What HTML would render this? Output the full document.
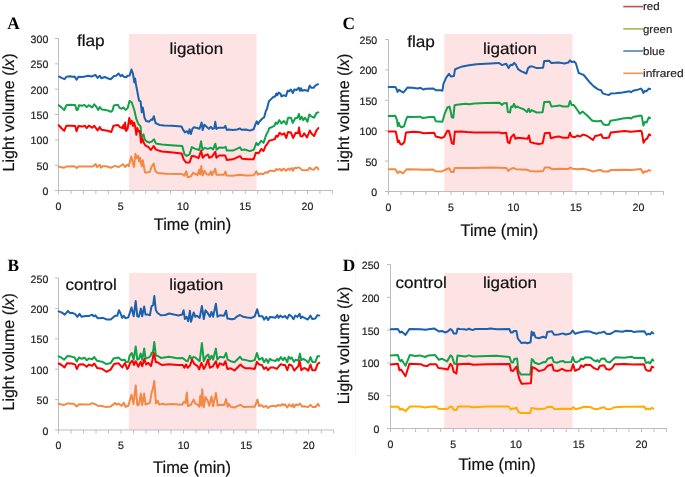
<!DOCTYPE html>
<html><head><meta charset="utf-8"><style>
html,body{margin:0;padding:0;background:#fff;width:685px;height:477px;overflow:hidden}
svg{display:block;will-change:transform} text{text-rendering:geometricPrecision}
</style></head><body>
<svg width="685" height="477" viewBox="0 0 685 477" font-family="Liberation Sans, sans-serif">
<rect x="129" y="34" width="127.60000000000002" height="156" fill="#FEE3E4"/>
<rect x="129" y="273" width="127.60000000000002" height="157" fill="#FEE3E4"/>
<rect x="444.2" y="34" width="128.3" height="157" fill="#FEE3E4"/>
<rect x="444.2" y="273" width="128.3" height="155" fill="#FEE3E4"/>
<path d="M58.5 38.5V190.5M58.5 190.5H332.5" stroke="#BDBDBD" stroke-width="1" fill="none"/>
<path d="M55.0 190.50H58.5M55.0 165.17H58.5M55.0 139.83H58.5M55.0 114.50H58.5M55.0 89.17H58.5M55.0 63.83H58.5M55.0 38.50H58.5M58.50 190.5V194.0M70.95 190.5V194.0M83.40 190.5V194.0M95.85 190.5V194.0M108.30 190.5V194.0M120.75 190.5V194.0M133.20 190.5V194.0M145.65 190.5V194.0M158.10 190.5V194.0M170.55 190.5V194.0M183.00 190.5V194.0M195.45 190.5V194.0M207.90 190.5V194.0M220.35 190.5V194.0M232.80 190.5V194.0M245.25 190.5V194.0M257.70 190.5V194.0M270.15 190.5V194.0M282.60 190.5V194.0M295.05 190.5V194.0M307.50 190.5V194.0M319.95 190.5V194.0M332.40 190.5V194.0" stroke="#BDBDBD" stroke-width="1" fill="none"/>
<text x="48.3" y="195.00" text-anchor="end" font-size="10.6" fill="#222" stroke="#222" stroke-width="0.2">0</text>
<text x="48.3" y="169.67" text-anchor="end" font-size="10.6" fill="#222" stroke="#222" stroke-width="0.2">50</text>
<text x="48.3" y="144.33" text-anchor="end" font-size="10.6" fill="#222" stroke="#222" stroke-width="0.2">100</text>
<text x="48.3" y="119.00" text-anchor="end" font-size="10.6" fill="#222" stroke="#222" stroke-width="0.2">150</text>
<text x="48.3" y="93.67" text-anchor="end" font-size="10.6" fill="#222" stroke="#222" stroke-width="0.2">200</text>
<text x="48.3" y="68.33" text-anchor="end" font-size="10.6" fill="#222" stroke="#222" stroke-width="0.2">250</text>
<text x="48.3" y="43.00" text-anchor="end" font-size="10.6" fill="#222" stroke="#222" stroke-width="0.2">300</text>
<text x="58.50" y="210" text-anchor="middle" font-size="10.6" fill="#222" stroke="#222" stroke-width="0.2">0</text>
<text x="120.75" y="210" text-anchor="middle" font-size="10.6" fill="#222" stroke="#222" stroke-width="0.2">5</text>
<text x="183.00" y="210" text-anchor="middle" font-size="10.6" fill="#222" stroke="#222" stroke-width="0.2">10</text>
<text x="245.25" y="210" text-anchor="middle" font-size="10.6" fill="#222" stroke="#222" stroke-width="0.2">15</text>
<text x="307.50" y="210" text-anchor="middle" font-size="10.6" fill="#222" stroke="#222" stroke-width="0.2">20</text>
<path d="M58.5 278.0V430.0M58.5 430.0H333.7" stroke="#BDBDBD" stroke-width="1" fill="none"/>
<path d="M55.0 430.00H58.5M55.0 399.60H58.5M55.0 369.20H58.5M55.0 338.80H58.5M55.0 308.40H58.5M55.0 278.00H58.5M58.50 430.0V433.5M71.01 430.0V433.5M83.52 430.0V433.5M96.03 430.0V433.5M108.54 430.0V433.5M121.05 430.0V433.5M133.56 430.0V433.5M146.07 430.0V433.5M158.58 430.0V433.5M171.09 430.0V433.5M183.60 430.0V433.5M196.11 430.0V433.5M208.62 430.0V433.5M221.13 430.0V433.5M233.64 430.0V433.5M246.15 430.0V433.5M258.66 430.0V433.5M271.17 430.0V433.5M283.68 430.0V433.5M296.19 430.0V433.5M308.70 430.0V433.5M321.21 430.0V433.5M333.72 430.0V433.5" stroke="#BDBDBD" stroke-width="1" fill="none"/>
<text x="48.3" y="434.50" text-anchor="end" font-size="10.6" fill="#222" stroke="#222" stroke-width="0.2">0</text>
<text x="48.3" y="404.10" text-anchor="end" font-size="10.6" fill="#222" stroke="#222" stroke-width="0.2">50</text>
<text x="48.3" y="373.70" text-anchor="end" font-size="10.6" fill="#222" stroke="#222" stroke-width="0.2">100</text>
<text x="48.3" y="343.30" text-anchor="end" font-size="10.6" fill="#222" stroke="#222" stroke-width="0.2">150</text>
<text x="48.3" y="312.90" text-anchor="end" font-size="10.6" fill="#222" stroke="#222" stroke-width="0.2">200</text>
<text x="48.3" y="282.50" text-anchor="end" font-size="10.6" fill="#222" stroke="#222" stroke-width="0.2">250</text>
<text x="58.50" y="449.3" text-anchor="middle" font-size="10.6" fill="#222" stroke="#222" stroke-width="0.2">0</text>
<text x="121.05" y="449.3" text-anchor="middle" font-size="10.6" fill="#222" stroke="#222" stroke-width="0.2">5</text>
<text x="183.60" y="449.3" text-anchor="middle" font-size="10.6" fill="#222" stroke="#222" stroke-width="0.2">10</text>
<text x="246.15" y="449.3" text-anchor="middle" font-size="10.6" fill="#222" stroke="#222" stroke-width="0.2">15</text>
<text x="308.70" y="449.3" text-anchor="middle" font-size="10.6" fill="#222" stroke="#222" stroke-width="0.2">20</text>
<path d="M388.5 39.5V191.5M388.5 191.5H663.5" stroke="#BDBDBD" stroke-width="1" fill="none"/>
<path d="M385.0 191.50H388.5M385.0 161.10H388.5M385.0 130.70H388.5M385.0 100.30H388.5M385.0 69.90H388.5M385.0 39.50H388.5M388.50 191.5V195.0M401.00 191.5V195.0M413.50 191.5V195.0M426.00 191.5V195.0M438.50 191.5V195.0M451.00 191.5V195.0M463.50 191.5V195.0M476.00 191.5V195.0M488.50 191.5V195.0M501.00 191.5V195.0M513.50 191.5V195.0M526.00 191.5V195.0M538.50 191.5V195.0M551.00 191.5V195.0M563.50 191.5V195.0M576.00 191.5V195.0M588.50 191.5V195.0M601.00 191.5V195.0M613.50 191.5V195.0M626.00 191.5V195.0M638.50 191.5V195.0M651.00 191.5V195.0M663.50 191.5V195.0" stroke="#BDBDBD" stroke-width="1" fill="none"/>
<text x="377.2" y="196.00" text-anchor="end" font-size="10.6" fill="#222" stroke="#222" stroke-width="0.2">0</text>
<text x="377.2" y="165.60" text-anchor="end" font-size="10.6" fill="#222" stroke="#222" stroke-width="0.2">50</text>
<text x="377.2" y="135.20" text-anchor="end" font-size="10.6" fill="#222" stroke="#222" stroke-width="0.2">100</text>
<text x="377.2" y="104.80" text-anchor="end" font-size="10.6" fill="#222" stroke="#222" stroke-width="0.2">150</text>
<text x="377.2" y="74.40" text-anchor="end" font-size="10.6" fill="#222" stroke="#222" stroke-width="0.2">200</text>
<text x="377.2" y="44.00" text-anchor="end" font-size="10.6" fill="#222" stroke="#222" stroke-width="0.2">250</text>
<text x="388.50" y="210.8" text-anchor="middle" font-size="10.6" fill="#222" stroke="#222" stroke-width="0.2">0</text>
<text x="451.00" y="210.8" text-anchor="middle" font-size="10.6" fill="#222" stroke="#222" stroke-width="0.2">5</text>
<text x="513.50" y="210.8" text-anchor="middle" font-size="10.6" fill="#222" stroke="#222" stroke-width="0.2">10</text>
<text x="576.00" y="210.8" text-anchor="middle" font-size="10.6" fill="#222" stroke="#222" stroke-width="0.2">15</text>
<text x="638.50" y="210.8" text-anchor="middle" font-size="10.6" fill="#222" stroke="#222" stroke-width="0.2">20</text>
<path d="M390.5 264.5V428.5M390.5 428.5H666.6" stroke="#BDBDBD" stroke-width="1" fill="none"/>
<path d="M387.0 428.50H390.5M387.0 395.70H390.5M387.0 362.90H390.5M387.0 330.10H390.5M387.0 297.30H390.5M387.0 264.50H390.5M390.50 428.5V432.0M403.05 428.5V432.0M415.60 428.5V432.0M428.15 428.5V432.0M440.70 428.5V432.0M453.25 428.5V432.0M465.80 428.5V432.0M478.35 428.5V432.0M490.90 428.5V432.0M503.45 428.5V432.0M516.00 428.5V432.0M528.55 428.5V432.0M541.10 428.5V432.0M553.65 428.5V432.0M566.20 428.5V432.0M578.75 428.5V432.0M591.30 428.5V432.0M603.85 428.5V432.0M616.40 428.5V432.0M628.95 428.5V432.0M641.50 428.5V432.0M654.05 428.5V432.0M666.60 428.5V432.0" stroke="#BDBDBD" stroke-width="1" fill="none"/>
<text x="379.5" y="433.00" text-anchor="end" font-size="10.6" fill="#222" stroke="#222" stroke-width="0.2">0</text>
<text x="379.5" y="400.20" text-anchor="end" font-size="10.6" fill="#222" stroke="#222" stroke-width="0.2">50</text>
<text x="379.5" y="367.40" text-anchor="end" font-size="10.6" fill="#222" stroke="#222" stroke-width="0.2">100</text>
<text x="379.5" y="334.60" text-anchor="end" font-size="10.6" fill="#222" stroke="#222" stroke-width="0.2">150</text>
<text x="379.5" y="301.80" text-anchor="end" font-size="10.6" fill="#222" stroke="#222" stroke-width="0.2">200</text>
<text x="379.5" y="269.00" text-anchor="end" font-size="10.6" fill="#222" stroke="#222" stroke-width="0.2">250</text>
<text x="390.50" y="448.2" text-anchor="middle" font-size="10.6" fill="#222" stroke="#222" stroke-width="0.2">0</text>
<text x="453.25" y="448.2" text-anchor="middle" font-size="10.6" fill="#222" stroke="#222" stroke-width="0.2">5</text>
<text x="516.00" y="448.2" text-anchor="middle" font-size="10.6" fill="#222" stroke="#222" stroke-width="0.2">10</text>
<text x="578.75" y="448.2" text-anchor="middle" font-size="10.6" fill="#222" stroke="#222" stroke-width="0.2">15</text>
<text x="641.50" y="448.2" text-anchor="middle" font-size="10.6" fill="#222" stroke="#222" stroke-width="0.2">20</text>
<path d="M355.5 251V457" stroke="#F6F6F6" stroke-width="1"/>
<text x="7.2" y="28.6" font-family="Liberation Serif, serif" font-weight="bold" font-size="17.3">A</text>
<text x="7.6" y="270.8" font-family="Liberation Serif, serif" font-weight="bold" font-size="17.3">B</text>
<text x="342.6" y="28.8" font-family="Liberation Serif, serif" font-weight="bold" font-size="17.3">C</text>
<text x="342.8" y="270.5" font-family="Liberation Serif, serif" font-weight="bold" font-size="17.3">D</text>
<text x="76.9" y="46" font-size="16" fill="#111" stroke="#111" stroke-width="0.2" textLength="27.8" lengthAdjust="spacingAndGlyphs">flap</text>
<text x="169.4" y="53.9" font-size="16" fill="#111" stroke="#111" stroke-width="0.2" textLength="53.7" lengthAdjust="spacingAndGlyphs">ligation</text>
<text x="65.6" y="289.7" font-size="16" fill="#111" stroke="#111" stroke-width="0.2" textLength="51.1" lengthAdjust="spacingAndGlyphs">control</text>
<text x="169.2" y="290.1" font-size="16" fill="#111" stroke="#111" stroke-width="0.2" textLength="53.9" lengthAdjust="spacingAndGlyphs">ligation</text>
<text x="407.2" y="46.6" font-size="16" fill="#111" stroke="#111" stroke-width="0.2" textLength="27.7" lengthAdjust="spacingAndGlyphs">flap</text>
<text x="483" y="53.9" font-size="16" fill="#111" stroke="#111" stroke-width="0.2" textLength="54.1" lengthAdjust="spacingAndGlyphs">ligation</text>
<text x="395.6" y="288.4" font-size="16" fill="#111" stroke="#111" stroke-width="0.2" textLength="51.2" lengthAdjust="spacingAndGlyphs">control</text>
<text x="483" y="287.6" font-size="16" fill="#111" stroke="#111" stroke-width="0.2" textLength="54.1" lengthAdjust="spacingAndGlyphs">ligation</text>
<text x="153.8" y="229.5" font-size="16.8" fill="#111" stroke="#111" stroke-width="0.2" textLength="77.3" lengthAdjust="spacingAndGlyphs">Time (min)</text>
<text x="153.1" y="472.5" font-size="16.8" fill="#111" stroke="#111" stroke-width="0.2" textLength="77.8" lengthAdjust="spacingAndGlyphs">Time (min)</text>
<text x="460.5" y="235.7" font-size="16.8" fill="#111" stroke="#111" stroke-width="0.2" textLength="77.6" lengthAdjust="spacingAndGlyphs">Time (min)</text>
<text x="458.5" y="469.7" font-size="16.8" fill="#111" stroke="#111" stroke-width="0.2" textLength="77.2" lengthAdjust="spacingAndGlyphs">Time (min)</text>
<text transform="translate(14.2,171.4) rotate(-90)" x="0" y="0" font-size="16" fill="#111" stroke="#111" stroke-width="0.2" textLength="117.9" lengthAdjust="spacingAndGlyphs">Light volume (<tspan font-style="italic">lx</tspan>)</text>
<text transform="translate(13.7,410.5) rotate(-90)" x="0" y="0" font-size="16" fill="#111" stroke="#111" stroke-width="0.2" textLength="117.39999999999998" lengthAdjust="spacingAndGlyphs">Light volume (<tspan font-style="italic">lx</tspan>)</text>
<text transform="translate(349,171.4) rotate(-90)" x="0" y="0" font-size="16" fill="#111" stroke="#111" stroke-width="0.2" textLength="117.7" lengthAdjust="spacingAndGlyphs">Light volume (<tspan font-style="italic">lx</tspan>)</text>
<text transform="translate(349,404.3) rotate(-90)" x="0" y="0" font-size="16" fill="#111" stroke="#111" stroke-width="0.2" textLength="117.60000000000002" lengthAdjust="spacingAndGlyphs">Light volume (<tspan font-style="italic">lx</tspan>)</text>
<path d="M623.3 6.6H643" stroke="#C0504D" stroke-width="1.6"/>
<text x="643" y="9.8" font-size="11" fill="#222" stroke="#222" stroke-width="0.15" textLength="16.7" lengthAdjust="spacingAndGlyphs">red</text>
<path d="M623.3 28.9H643" stroke="#9BBB59" stroke-width="1.6"/>
<text x="643" y="32.8" font-size="11" fill="#222" stroke="#222" stroke-width="0.15" textLength="29.3" lengthAdjust="spacingAndGlyphs">green</text>
<path d="M623.3 51H643" stroke="#4F81BD" stroke-width="1.6"/>
<text x="643" y="54.8" font-size="11" fill="#222" stroke="#222" stroke-width="0.15" textLength="21.8" lengthAdjust="spacingAndGlyphs">blue</text>
<path d="M623.3 73.3H643" stroke="#F79646" stroke-width="1.6"/>
<text x="643" y="77" font-size="11" fill="#222" stroke="#222" stroke-width="0.15" textLength="40.7" lengthAdjust="spacingAndGlyphs">infrared</text>
<path d="M58.7 105.2 L61.5 107.4 L64.2 110.1 L66.4 105.2 L69.1 104.7 L75.2 104.9 L76.6 110.1 L77.9 109.6 L79.0 105.2 L82.3 105.8 L84.5 104.9 L86.7 107.1 L88.8 105.2 L92.1 107.4 L94.3 104.4 L96.0 106.3 L98.2 109.9 L99.8 107.1 L102.0 109.6 L105.3 109.9 L108.6 110.7 L110.7 111.8 L112.4 110.7 L113.8 105.5 L117.9 104.7 L119.5 107.9 L121.7 108.8 L123.3 107.4 L125.5 109.9 L127.7 107.9 L129.5 100.9 L131.7 102.3 L134.3 110.0 L136.4 119.2 L138.5 124.3 L140.6 126.4 L141.4 137.7 L143.5 134.3 L144.8 139.8 L146.9 141.5 L149.3 142.7 L151.5 141.7 L154.1 139.3 L155.9 143.4 L161.8 144.6 L170.6 145.3 L182.3 146.1 L184.5 154.4 L186.7 155.9 L189.6 154.4 L191.8 147.1 L194.8 148.6 L199.2 150.0 L201.1 141.2 L202.4 150.0 L204.4 147.8 L207.7 148.9 L210.9 147.8 L213.1 149.5 L215.3 143.7 L216.6 149.8 L219.2 147.6 L223.5 147.8 L225.7 146.8 L226.8 150.6 L232.8 150.6 L237.8 148.4 L240.0 147.3 L241.6 150.0 L244.9 149.5 L249.8 151.1 L253.7 149.8 L256.4 142.9 L258.0 145.1 L261.3 140.7 L263.5 142.9 L266.2 134.7 L268.3 130.9 L269.2 128.1 L271.6 127.2 L274.4 125.8 L275.8 122.5 L277.3 123.9 L279.2 120.1 L281.5 123.4 L283.9 121.0 L286.5 124.3 L288.1 117.7 L290.9 117.7 L292.8 122.9 L295.2 118.2 L297.5 117.7 L299.0 114.0 L300.1 119.6 L301.8 116.8 L303.2 120.1 L305.1 117.7 L307.5 121.8 L309.3 114.4 L311.2 116.3 L314.1 117.7 L316.4 113.0 L318.3 112.4" stroke="#12A24A" stroke-width="2" fill="none" stroke-linejoin="round" stroke-linecap="round"/>
<path d="M58.7 125.2 L61.5 128.2 L64.2 130.9 L66.4 125.7 L70.2 125.7 L75.2 126.0 L76.6 131.2 L78.4 126.0 L82.3 126.6 L85.0 125.7 L86.7 128.2 L88.8 125.7 L92.1 127.7 L94.3 125.7 L96.0 128.2 L97.6 130.4 L99.8 127.1 L101.4 129.8 L107.5 130.7 L111.3 132.0 L113.5 125.7 L115.0 125.5 L117.9 124.9 L120.0 127.2 L122.1 128.1 L123.4 125.1 L124.2 128.9 L125.1 122.6 L126.1 131.0 L127.6 128.9 L129.3 118.0 L130.5 123.9 L131.8 120.9 L133.0 126.0 L134.1 122.6 L135.2 126.8 L136.4 134.8 L137.3 128.1 L138.5 131.4 L139.8 131.0 L141.0 142.7 L142.3 138.5 L143.5 142.3 L145.2 145.3 L148.5 147.1 L150.8 150.0 L153.7 146.1 L155.9 149.6 L161.8 151.5 L170.6 152.2 L181.6 153.4 L183.8 159.6 L186.0 162.5 L189.6 162.5 L191.8 155.9 L195.5 156.6 L198.5 158.1 L201.1 150.8 L202.7 157.7 L204.9 155.5 L207.7 154.4 L209.3 157.7 L212.0 156.6 L215.3 151.7 L216.4 157.7 L219.2 155.5 L225.2 155.5 L226.8 159.9 L232.8 159.3 L237.8 157.2 L240.0 156.1 L242.2 158.8 L248.2 159.3 L253.7 159.3 L255.8 152.8 L258.6 153.3 L261.3 148.9 L263.5 151.1 L265.7 145.7 L266.9 144.6 L269.2 140.8 L272.5 139.9 L274.9 139.0 L276.3 135.7 L277.7 136.6 L279.6 132.8 L282.0 134.7 L284.3 133.3 L286.2 138.0 L288.1 131.9 L290.9 132.4 L293.1 138.0 L295.7 132.8 L298.0 133.3 L299.0 127.6 L300.4 136.1 L302.3 136.6 L304.2 133.3 L307.0 137.5 L309.8 130.5 L311.2 133.3 L314.1 136.1 L316.4 130.5 L318.3 128.1" stroke="#FF0000" stroke-width="2" fill="none" stroke-linejoin="round" stroke-linecap="round"/>
<path d="M59.1 76.5 L61.5 77.9 L64.5 79.2 L66.4 76.8 L70.2 76.2 L72.4 76.8 L74.6 76.6 L76.6 79.7 L78.4 76.8 L82.3 77.1 L85.0 76.6 L87.8 75.7 L91.6 76.5 L95.4 74.9 L97.6 77.9 L99.8 75.7 L101.4 78.2 L104.7 77.0 L107.5 78.2 L110.7 79.3 L114.0 76.0 L116.2 75.7 L118.6 73.5 L120.6 76.2 L122.2 74.9 L123.9 76.8 L126.1 77.3 L127.7 75.7 L129.6 75.4 L131.5 69.5 L133.0 73.8 L134.3 82.4 L135.1 78.5 L135.9 84.0 L137.4 91.9 L139.0 100.5 L140.6 101.3 L141.8 112.3 L142.9 107.6 L144.5 117.8 L146.1 121.0 L149.2 121.7 L151.3 119.4 L152.4 119.9 L153.9 116.2 L155.5 123.0 L159.4 124.9 L164.2 125.4 L172.0 125.7 L181.5 126.5 L183.0 129.6 L184.9 132.4 L187.0 131.2 L188.5 133.5 L189.6 129.3 L190.9 134.0 L192.5 128.8 L194.0 127.3 L197.2 128.0 L199.5 128.8 L201.6 122.5 L202.7 130.0 L204.4 124.6 L206.6 126.8 L208.8 128.9 L210.9 126.8 L212.6 128.9 L214.2 128.4 L215.3 121.8 L216.4 128.9 L218.1 127.8 L224.1 127.8 L225.4 125.9 L226.8 130.0 L228.5 129.5 L232.8 130.0 L237.2 129.5 L240.0 128.4 L241.6 129.8 L246.0 129.5 L249.8 130.6 L253.7 129.2 L255.3 124.6 L256.7 121.3 L258.0 124.0 L259.7 121.3 L262.4 118.5 L264.1 117.4 L265.7 111.4 L267.0 108.7 L268.9 101.3 L271.1 99.1 L273.3 97.0 L275.1 96.5 L276.4 93.5 L277.3 95.2 L278.8 92.6 L280.3 93.5 L281.6 96.5 L283.4 95.2 L286.0 96.1 L287.6 90.8 L289.1 91.3 L290.8 89.5 L292.8 93.0 L294.3 89.5 L296.5 90.0 L298.7 87.8 L300.0 90.8 L300.9 88.2 L302.2 90.8 L304.8 90.0 L307.9 91.1 L309.7 85.6 L311.4 87.8 L313.6 87.8 L315.8 85.1 L318.0 84.3" stroke="#1A62AD" stroke-width="2" fill="none" stroke-linejoin="round" stroke-linecap="round"/>
<path d="M58.7 166.6 L61.5 167.3 L64.2 167.7 L67.0 166.4 L73.5 166.2 L75.2 166.6 L76.6 168.1 L78.4 166.4 L84.5 166.6 L88.8 166.4 L93.2 166.4 L95.6 164.0 L97.1 167.0 L99.8 164.8 L100.9 167.7 L103.1 166.2 L106.4 166.2 L110.7 167.7 L115.1 165.9 L118.4 167.0 L120.6 165.9 L123.3 164.2 L125.0 167.0 L127.2 164.8 L128.8 166.2 L129.6 162.5 L131.3 156.5 L132.9 163.1 L134.0 166.9 L135.4 153.8 L136.8 158.1 L138.1 155.9 L139.0 161.4 L140.0 157.6 L141.7 166.4 L142.8 160.3 L145.0 172.4 L147.2 172.6 L149.9 171.8 L151.5 166.9 L153.7 163.6 L155.4 171.3 L157.6 172.9 L166.3 173.7 L177.3 174.0 L182.7 174.3 L184.4 175.7 L186.2 171.3 L187.7 177.3 L191.0 176.2 L193.1 172.9 L195.3 174.0 L197.5 175.1 L199.2 169.6 L200.3 174.6 L201.3 166.0 L202.7 175.3 L204.4 170.9 L206.6 174.2 L209.3 174.7 L210.9 171.4 L212.0 175.3 L215.3 168.7 L216.4 174.7 L219.2 174.7 L224.1 174.7 L225.4 171.6 L226.8 175.6 L232.8 175.8 L239.4 174.7 L246.0 175.6 L253.7 175.3 L256.4 171.4 L258.0 174.7 L260.2 173.6 L263.0 174.2 L265.7 172.0 L267.2 173.0 L269.4 170.8 L272.0 170.8 L274.6 171.2 L276.4 169.0 L277.7 169.9 L279.9 169.0 L281.6 170.8 L283.4 168.6 L286.0 170.8 L288.2 168.6 L290.0 169.9 L291.7 168.1 L293.0 170.8 L294.3 168.1 L296.5 168.1 L298.3 167.3 L300.0 168.1 L301.8 169.9 L305.3 170.3 L307.9 170.1 L309.7 167.7 L311.8 169.4 L313.6 169.9 L315.8 167.3 L317.1 167.3 L318.4 169.4" stroke="#F28A45" stroke-width="2" fill="none" stroke-linejoin="round" stroke-linecap="round"/>
<path d="M58.7 356.4 L61.5 357.7 L64.2 359.7 L67.5 355.9 L71.3 356.6 L74.6 357.5 L76.8 361.4 L79.0 357.5 L81.7 358.8 L84.5 357.7 L86.7 360.3 L88.8 358.4 L92.1 359.2 L94.3 357.0 L97.1 360.8 L102.0 361.7 L106.4 364.1 L110.7 363.0 L113.5 358.6 L118.4 357.5 L121.7 360.3 L124.4 359.7 L126.1 361.9 L128.3 361.9 L129.6 355.7 L131.8 353.0 L133.7 359.6 L135.7 346.4 L137.3 359.6 L138.9 359.0 L140.6 353.5 L142.2 360.1 L144.2 348.6 L145.5 358.5 L148.8 357.4 L150.4 356.3 L151.5 353.0 L153.0 351.9 L154.3 342.0 L155.9 355.7 L157.6 355.7 L160.8 357.9 L169.1 356.8 L177.3 358.2 L182.7 357.9 L186.0 360.7 L187.7 361.2 L189.9 355.7 L191.5 359.0 L193.7 356.8 L195.9 357.9 L199.7 361.2 L201.9 343.1 L203.8 361.2 L206.0 356.3 L208.2 354.6 L209.9 359.6 L211.5 355.7 L213.1 359.6 L215.9 348.6 L217.3 359.6 L219.7 356.8 L224.1 357.4 L226.1 353.0 L227.6 359.6 L230.7 361.2 L234.5 362.3 L237.8 359.0 L240.0 356.8 L242.2 359.6 L246.0 360.1 L250.4 361.2 L254.7 360.1 L256.9 353.0 L259.1 359.6 L262.4 357.9 L264.1 362.3 L266.2 359.0 L268.1 362.8 L269.8 358.8 L272.0 360.1 L275.5 361.0 L277.3 358.8 L278.6 360.6 L280.8 357.1 L283.0 360.1 L284.7 357.5 L287.3 362.3 L288.6 356.6 L290.4 358.8 L291.7 357.5 L293.9 361.9 L295.6 359.7 L298.3 360.6 L300.0 353.6 L301.3 360.1 L303.5 358.8 L306.2 360.6 L308.3 362.8 L310.5 357.1 L312.3 361.9 L315.4 361.9 L317.5 356.2 L319.3 356.2" stroke="#12A24A" stroke-width="2" fill="none" stroke-linejoin="round" stroke-linecap="round"/>
<path d="M58.7 363.5 L61.5 365.0 L64.5 367.4 L66.9 363.2 L71.9 363.5 L75.2 364.6 L76.8 369.0 L79.0 364.6 L83.4 364.3 L86.7 366.8 L88.8 364.6 L92.1 365.7 L94.3 363.5 L97.1 367.9 L102.0 368.7 L106.4 371.8 L110.7 369.6 L114.0 363.9 L118.4 363.2 L122.2 367.4 L125.0 363.0 L127.2 369.0 L128.0 368.3 L130.2 362.8 L132.4 360.7 L134.0 365.0 L135.7 361.2 L138.4 366.7 L140.6 361.8 L142.2 366.1 L144.4 359.0 L146.1 364.5 L148.3 362.8 L151.0 366.1 L152.6 359.6 L153.7 353.0 L155.9 362.3 L157.6 362.3 L161.9 365.0 L169.1 364.2 L177.3 365.0 L182.7 365.0 L184.4 367.8 L186.0 364.5 L187.7 367.8 L189.9 365.6 L192.1 359.6 L194.2 363.9 L197.5 366.1 L199.2 369.4 L201.4 362.8 L203.8 368.9 L206.0 365.0 L207.9 359.6 L209.9 367.8 L213.1 366.1 L215.9 361.2 L217.5 367.8 L219.7 363.4 L223.5 365.0 L225.4 361.2 L227.4 368.9 L230.7 368.3 L234.5 370.5 L237.8 367.2 L240.5 364.5 L242.7 366.7 L245.4 368.3 L250.4 368.3 L254.7 368.9 L256.9 361.8 L259.1 364.5 L261.9 365.0 L264.1 368.9 L266.2 367.2 L268.1 370.2 L270.3 367.6 L273.8 367.6 L276.8 368.9 L278.6 366.7 L280.8 364.1 L283.4 365.0 L285.1 365.0 L287.3 370.2 L289.1 364.5 L291.7 365.4 L294.3 370.6 L296.5 368.0 L298.3 366.3 L299.6 360.6 L301.3 370.2 L304.0 368.0 L306.2 368.9 L308.3 370.6 L310.5 364.5 L312.3 370.2 L315.4 370.2 L317.5 364.1 L319.3 362.8" stroke="#FF0000" stroke-width="2" fill="none" stroke-linejoin="round" stroke-linecap="round"/>
<path d="M58.7 311.4 L61.5 312.4 L64.8 314.6 L68.0 310.8 L69.7 313.0 L72.4 312.8 L75.2 314.1 L77.4 316.8 L79.5 313.9 L81.7 316.8 L85.6 316.1 L88.8 316.1 L92.1 314.6 L93.8 316.3 L95.4 315.4 L97.6 318.2 L103.1 317.9 L106.9 319.6 L110.7 319.6 L115.1 315.7 L117.3 315.7 L119.0 310.3 L120.6 313.5 L122.2 317.9 L123.9 315.7 L125.5 318.2 L128.3 317.4 L129.6 313.5 L131.5 307.5 L133.7 316.3 L135.7 301.0 L137.3 316.3 L138.9 316.8 L140.9 308.6 L142.2 316.3 L144.2 306.4 L145.5 314.6 L147.7 314.6 L149.9 315.2 L151.5 306.4 L153.2 304.8 L154.3 296.0 L155.9 310.3 L157.6 313.0 L160.8 315.2 L165.2 315.0 L169.1 313.5 L174.0 314.6 L178.4 315.4 L182.2 314.6 L183.6 310.3 L184.9 319.0 L186.6 316.8 L188.2 321.2 L189.9 310.8 L191.0 321.8 L193.7 312.4 L195.3 316.8 L197.0 315.7 L199.7 317.9 L201.9 305.9 L203.8 319.0 L205.5 310.3 L207.7 313.0 L209.9 316.8 L211.5 311.9 L213.1 316.8 L215.9 303.7 L217.5 316.8 L219.7 315.2 L224.1 315.7 L226.1 310.6 L227.4 318.5 L231.8 319.3 L234.5 318.7 L237.2 316.3 L240.0 315.0 L243.2 316.8 L247.1 317.4 L251.5 317.9 L254.7 316.3 L257.2 309.2 L259.1 316.3 L262.4 316.3 L264.1 319.6 L266.2 316.8 L268.1 320.0 L269.8 316.9 L272.9 317.3 L275.5 317.8 L277.3 315.1 L278.6 317.8 L280.3 315.6 L282.5 317.3 L285.1 316.0 L287.3 318.6 L289.1 314.7 L291.3 316.0 L293.5 319.1 L295.2 315.6 L297.4 316.9 L299.6 313.8 L300.9 318.2 L302.2 316.5 L304.4 317.8 L307.9 319.5 L310.5 315.6 L312.3 319.1 L315.4 318.6 L317.5 315.1 L319.3 315.6" stroke="#1A62AD" stroke-width="2" fill="none" stroke-linejoin="round" stroke-linecap="round"/>
<path d="M58.7 403.8 L61.5 404.5 L64.2 404.9 L68.0 403.4 L73.5 403.8 L76.8 406.4 L79.0 404.2 L84.5 404.5 L89.9 404.5 L92.1 403.1 L95.4 404.2 L97.6 405.8 L102.0 406.0 L106.4 407.1 L110.7 406.4 L115.1 403.1 L116.8 404.7 L118.4 403.6 L121.7 405.8 L123.9 402.7 L125.5 406.9 L128.3 405.8 L129.6 401.3 L131.5 394.7 L133.5 404.0 L135.7 385.4 L137.3 405.1 L138.9 404.6 L140.9 393.6 L142.2 405.1 L144.2 393.6 L145.5 404.6 L147.7 403.7 L149.9 402.9 L151.5 393.1 L153.0 388.1 L154.3 381.0 L155.9 403.5 L157.6 400.7 L159.2 404.6 L163.0 403.7 L165.2 404.6 L171.8 404.0 L182.2 404.8 L183.8 401.8 L185.5 402.9 L186.8 392.5 L188.0 406.2 L191.0 404.6 L193.7 399.6 L195.3 403.5 L198.1 405.1 L199.2 406.8 L200.3 395.8 L201.4 405.7 L202.2 389.2 L203.8 407.3 L205.5 396.9 L207.7 400.7 L209.3 405.7 L211.5 396.4 L213.1 406.2 L215.9 393.1 L217.7 405.7 L219.7 404.8 L224.1 405.1 L226.1 399.1 L227.6 406.8 L229.0 404.0 L230.7 406.8 L234.5 407.6 L237.2 406.2 L240.5 404.8 L243.8 407.0 L248.2 406.8 L254.7 406.8 L257.5 399.6 L259.1 406.2 L261.3 405.1 L263.5 407.0 L266.3 405.8 L268.1 408.0 L270.3 406.2 L273.8 405.8 L275.9 406.6 L278.1 404.9 L280.3 405.8 L282.5 404.0 L283.8 405.3 L285.1 404.4 L287.3 407.5 L289.1 404.4 L291.3 406.6 L293.0 404.0 L293.9 407.5 L296.1 404.4 L297.8 405.3 L300.0 403.6 L301.8 406.6 L304.4 406.2 L307.9 407.1 L310.5 404.9 L312.7 407.1 L315.4 407.1 L318.0 404.0 L319.3 405.8" stroke="#F28A45" stroke-width="2" fill="none" stroke-linejoin="round" stroke-linecap="round"/>
<path d="M388.7 116.0 L395.3 115.8 L397.0 120.2 L397.8 126.2 L398.9 122.9 L399.7 125.7 L401.3 127.3 L404.1 126.2 L405.7 120.7 L407.4 116.7 L413.4 116.9 L419.9 116.7 L422.7 118.0 L429.8 116.9 L434.2 117.1 L435.8 121.3 L438.6 121.5 L442.4 121.8 L442.4 121.8 L444.7 113.7 L447.4 107.5 L449.5 106.6 L450.6 111.0 L451.8 117.3 L453.3 117.8 L454.5 105.7 L455.0 104.9 L461.0 104.3 L465.7 103.8 L469.0 104.3 L474.4 103.5 L485.4 102.9 L499.6 102.7 L501.8 104.9 L504.0 103.2 L506.7 102.9 L507.8 112.0 L510.0 112.5 L511.1 106.5 L512.5 107.0 L514.1 103.8 L515.5 107.6 L517.1 106.5 L519.3 107.6 L523.7 109.2 L527.0 112.0 L528.6 108.7 L530.0 112.0 L531.6 110.1 L536.6 112.5 L542.6 112.3 L544.2 102.1 L549.7 101.8 L551.4 106.5 L556.3 105.9 L559.6 105.4 L562.8 106.5 L568.3 106.5 L570.0 101.0 L571.6 104.9 L573.8 105.1 L576.5 108.7 L579.8 113.6 L582.6 111.6 L586.9 115.3 L592.4 120.7 L595.7 121.3 L598.0 121.2 L601.1 120.8 L603.3 124.3 L605.9 125.1 L608.9 124.7 L610.3 120.8 L615.5 119.9 L622.5 118.6 L629.5 117.7 L630.8 118.6 L633.0 117.1 L640.9 115.5 L641.8 116.4 L643.4 125.6 L644.8 122.1 L646.6 122.5 L648.8 117.4 L650.1 118.1" stroke="#12A24A" stroke-width="2" fill="none" stroke-linejoin="round" stroke-linecap="round"/>
<path d="M388.7 131.4 L395.3 131.4 L395.7 131.5 L397.1 137.8 L397.8 142.2 L398.9 140.5 L400.2 144.0 L401.9 144.6 L404.3 142.2 L406.0 132.4 L413.4 131.7 L419.9 132.2 L423.8 133.3 L434.2 132.8 L435.8 136.6 L441.8 137.9 L444.0 136.9 L447.4 130.7 L448.8 130.7 L450.1 135.1 L451.8 143.1 L453.6 144.0 L454.9 131.5 L455.0 131.7 L461.0 131.4 L466.8 132.0 L474.4 132.4 L485.4 132.4 L499.6 132.4 L501.8 133.3 L506.2 132.8 L507.8 142.1 L509.5 143.2 L511.1 137.2 L513.8 134.4 L515.5 138.8 L517.7 137.7 L522.6 138.2 L527.5 138.8 L529.0 135.5 L530.3 142.1 L534.4 143.2 L538.8 144.1 L542.6 143.2 L544.8 133.3 L549.7 132.8 L550.8 138.2 L556.3 136.8 L559.6 136.6 L562.8 137.7 L568.3 137.7 L570.0 132.8 L571.6 136.6 L574.9 137.2 L577.6 135.5 L579.8 136.6 L583.1 134.6 L586.9 135.7 L593.0 139.9 L595.1 136.1 L598.0 135.6 L601.1 134.3 L602.8 137.8 L605.9 138.1 L608.9 137.6 L610.7 132.6 L615.5 132.0 L624.3 131.1 L631.3 131.7 L640.9 130.8 L641.8 132.1 L643.5 142.7 L645.7 139.2 L647.0 138.7 L649.2 134.3 L650.3 135.2" stroke="#FF0000" stroke-width="2" fill="none" stroke-linejoin="round" stroke-linecap="round"/>
<path d="M388.7 87.0 L395.3 87.0 L396.4 88.7 L397.5 91.9 L399.1 89.8 L400.8 91.1 L403.5 92.5 L405.2 90.3 L407.4 87.6 L412.3 87.8 L417.8 88.4 L420.5 87.8 L423.2 89.5 L426.0 88.7 L433.1 88.4 L435.8 90.3 L440.7 90.3 L442.4 90.8 L443.5 83.7 L446.2 77.7 L449.0 73.9 L451.1 76.6 L453.9 76.1 L455.0 69.5 L457.2 68.4 L462.4 66.4 L469.0 65.3 L476.6 64.2 L485.4 63.7 L490.8 63.4 L498.5 62.9 L500.2 63.7 L501.8 65.1 L506.2 63.7 L508.6 68.1 L510.6 64.8 L512.2 65.3 L514.1 62.9 L516.0 64.8 L518.0 69.2 L521.5 71.4 L526.4 73.5 L528.1 68.1 L530.3 66.4 L532.2 66.4 L536.6 68.1 L543.1 67.7 L544.2 61.0 L549.2 60.7 L551.4 63.1 L558.5 62.6 L564.5 63.4 L568.3 62.6 L570.0 60.4 L571.6 62.0 L574.3 61.5 L576.0 63.7 L578.7 73.0 L581.5 74.1 L583.7 75.0 L590.2 82.8 L593.5 86.1 L598.0 89.4 L601.1 90.3 L602.8 93.4 L605.9 94.4 L608.9 95.1 L610.7 93.4 L615.5 93.2 L622.5 92.5 L629.5 91.2 L631.1 92.3 L633.0 90.8 L636.5 90.1 L640.9 88.6 L641.8 89.4 L643.4 93.0 L644.8 90.9 L646.6 91.2 L648.8 88.6 L650.1 89.0" stroke="#1A62AD" stroke-width="2" fill="none" stroke-linejoin="round" stroke-linecap="round"/>
<path d="M388.7 169.2 L395.3 169.2 L397.8 173.1 L399.7 171.4 L403.0 173.4 L406.8 169.2 L418.8 169.5 L423.2 169.8 L433.1 169.5 L435.3 171.2 L441.8 171.4 L445.1 169.8 L449.2 168.3 L450.6 170.8 L451.3 172.0 L453.6 172.0 L454.5 168.3 L455.5 167.9 L461.0 167.9 L474.4 167.9 L490.8 167.6 L506.2 167.9 L508.4 170.9 L511.1 168.7 L513.8 168.1 L516.0 169.2 L527.0 169.8 L529.7 170.9 L536.6 171.4 L543.1 170.9 L544.8 167.6 L549.7 167.6 L551.9 169.2 L558.5 168.7 L568.3 169.0 L570.3 167.6 L572.7 168.7 L578.2 169.2 L582.6 168.7 L588.0 169.8 L591.3 170.9 L593.5 171.4 L598.0 170.3 L601.1 170.1 L603.3 171.6 L608.5 171.6 L610.7 169.9 L624.3 169.7 L631.3 170.1 L640.9 169.0 L643.1 173.0 L644.8 171.2 L646.2 171.8 L648.8 170.1 L650.3 170.6" stroke="#F28A45" stroke-width="2" fill="none" stroke-linejoin="round" stroke-linecap="round"/>
<path d="M390.7 355.4 L397.9 355.1 L399.5 360.3 L400.6 361.4 L401.7 359.8 L405.5 365.8 L409.9 354.9 L415.4 356.0 L419.8 355.4 L425.2 357.0 L428.5 355.4 L435.1 355.1 L438.9 359.8 L441.7 358.7 L447.1 361.4 L450.4 355.4 L452.1 356.5 L454.2 363.6 L456.4 364.2 L457.5 355.4 L465.5 356.5 L468.8 355.4 L473.1 356.5 L487.4 356.0 L496.1 355.7 L509.6 357.1 L511.3 362.5 L513.1 362.5 L514.2 359.0 L517.1 358.4 L518.3 370.5 L521.1 374.6 L525.7 374.4 L530.4 374.6 L531.7 359.0 L533.2 360.2 L534.4 362.5 L539.0 364.2 L543.8 362.0 L545.5 362.3 L547.7 358.7 L552.0 357.3 L553.7 362.0 L557.5 362.7 L559.7 361.6 L563.0 360.9 L565.2 362.3 L571.2 362.0 L572.8 357.0 L574.5 361.4 L576.1 362.3 L579.4 360.9 L581.1 358.7 L583.2 359.2 L585.4 357.3 L590.4 357.6 L593.1 359.8 L595.8 361.4 L597.5 360.1 L599.1 362.0 L601.3 358.7 L604.6 358.6 L606.8 361.6 L609.8 362.5 L612.9 359.4 L615.5 357.3 L624.3 357.7 L631.3 356.8 L634.8 358.1 L644.0 357.7 L646.0 363.0 L648.4 362.1 L650.1 363.4 L652.3 359.4 L653.3 360.6" stroke="#12A24A" stroke-width="2" fill="none" stroke-linejoin="round" stroke-linecap="round"/>
<path d="M390.7 364.5 L397.9 363.8 L399.5 370.2 L401.1 369.6 L405.5 376.2 L409.4 363.8 L420.8 364.2 L424.1 365.8 L427.4 366.0 L429.6 364.2 L436.2 364.2 L438.4 368.0 L442.7 368.5 L447.7 369.6 L450.4 363.8 L452.1 365.8 L453.7 371.8 L456.4 373.5 L457.5 364.2 L468.8 363.8 L473.1 364.7 L487.4 364.2 L509.6 364.0 L511.0 370.5 L513.1 370.9 L516.5 366.5 L517.7 372.3 L519.4 379.2 L521.7 383.8 L525.7 383.6 L530.9 383.2 L532.1 367.1 L535.0 368.2 L539.0 371.1 L544.4 369.6 L547.7 365.8 L552.0 364.5 L553.7 370.2 L557.5 371.1 L561.9 368.9 L565.7 370.7 L571.2 370.4 L573.1 364.2 L575.0 370.7 L579.4 368.9 L581.1 365.3 L583.2 367.0 L585.4 364.7 L590.4 364.9 L593.7 368.0 L596.4 369.1 L598.0 369.5 L599.8 366.0 L604.1 365.3 L606.3 369.1 L609.8 369.7 L612.4 367.8 L614.6 364.3 L624.3 364.1 L633.0 364.4 L644.0 364.3 L645.7 369.5 L647.9 370.8 L650.4 370.8 L651.9 366.5 L653.3 367.3" stroke="#FF0000" stroke-width="2" fill="none" stroke-linejoin="round" stroke-linecap="round"/>
<path d="M390.7 329.2 L397.9 329.0 L400.0 332.5 L401.7 331.6 L405.5 334.9 L409.4 329.0 L420.8 329.2 L425.2 329.8 L434.0 328.4 L438.9 331.4 L441.7 330.9 L445.5 332.5 L447.7 331.4 L450.4 329.0 L452.1 330.3 L453.7 333.6 L456.4 333.6 L457.5 328.7 L460.0 329.0 L464.4 329.2 L466.6 329.8 L468.8 328.7 L472.6 330.1 L475.3 329.0 L487.4 329.0 L490.1 328.4 L497.2 329.2 L509.3 329.0 L510.9 332.5 L512.6 332.5 L513.9 330.9 L516.4 330.9 L517.8 338.5 L519.1 340.2 L521.3 342.9 L525.7 342.6 L527.3 343.2 L530.6 342.2 L531.6 331.4 L532.7 335.3 L533.8 332.5 L535.5 337.4 L538.8 338.2 L543.1 336.7 L545.9 337.8 L547.3 332.0 L550.3 331.6 L551.9 331.2 L554.1 334.7 L558.5 334.5 L562.8 333.4 L565.6 334.5 L570.5 333.4 L572.7 330.5 L574.9 333.8 L578.2 332.7 L581.5 332.0 L585.8 331.2 L589.7 331.4 L593.0 332.7 L596.8 333.8 L599.0 332.7 L601.5 332.5 L604.1 331.6 L606.3 333.8 L609.8 334.1 L612.0 333.0 L615.5 330.9 L622.5 331.8 L626.0 330.8 L631.3 330.9 L633.9 332.1 L637.4 331.6 L644.4 331.2 L646.6 334.7 L648.4 333.8 L650.1 334.4 L651.9 332.1 L653.2 333.4" stroke="#1A62AD" stroke-width="2" fill="none" stroke-linejoin="round" stroke-linecap="round"/>
<path d="M390.7 406.8 L398.4 406.8 L400.0 409.8 L401.7 408.7 L405.5 411.2 L409.9 406.5 L419.8 406.5 L425.2 407.6 L429.6 406.8 L436.2 406.5 L438.4 408.7 L443.8 409.0 L447.7 408.7 L450.4 406.5 L452.1 407.0 L453.7 409.8 L456.4 410.1 L458.1 406.5 L468.8 406.5 L473.1 407.3 L487.4 406.5 L508.7 406.5 L510.9 409.5 L513.1 408.4 L514.7 408.7 L516.4 407.6 L518.6 412.0 L520.8 413.1 L530.1 413.1 L531.6 407.9 L538.8 409.2 L545.3 408.4 L547.5 407.0 L551.9 406.8 L554.6 409.2 L562.8 408.7 L571.6 409.0 L573.2 407.0 L575.4 409.2 L580.4 408.1 L583.7 406.8 L590.2 407.0 L593.5 408.7 L596.8 409.2 L601.5 407.7 L604.1 407.3 L606.3 409.0 L610.3 409.2 L614.2 407.3 L624.3 406.8 L633.0 406.8 L644.0 406.4 L646.0 409.4 L647.9 408.6 L649.7 409.4 L651.9 407.7 L653.2 408.8" stroke="#FFAC00" stroke-width="2" fill="none" stroke-linejoin="round" stroke-linecap="round"/>
</svg></body></html>
